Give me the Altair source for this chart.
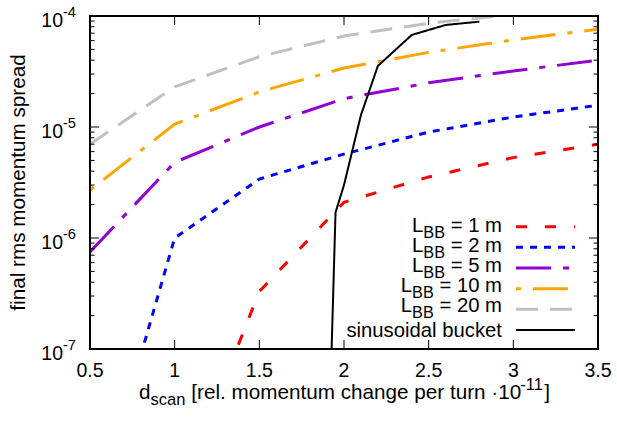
import altair as alt
import pandas as pd

# ---- data -------------------------------------------------------------
# scan rate d_scan (units of 1e-11 relative momentum change per turn)
d_scan = [0.5, 1.0, 1.5, 2.0, 2.5, 3.0, 3.5]
d_scan_L1 = [1.0, 1.5, 2.0, 2.5, 3.0, 3.5]

# final rms momentum spread for the different barrier-bucket lengths
spread_L1 = [3.8e-9, 3.3e-7, 2.1e-6, 3.55e-6, 5.3e-6, 7.0e-6]
spread_L2 = [2.3e-9, 1.0e-6, 3.4e-6, 5.7e-6, 9.0e-6, 1.23e-5, 1.57e-5]
spread_L5 = [7.5e-7, 4.8e-6, 1.0e-5, 1.8e-5, 2.5e-5, 3.2e-5, 4.0e-5]
spread_L10 = [2.7e-6, 1.06e-5, 2.07e-5, 3.4e-5, 4.7e-5, 6.1e-5, 7.6e-5]
spread_L20 = [7.0e-6, 2.3e-5, 4.3e-5, 6.6e-5, 8.6e-5, 1.03e-4, 1.2e-4]

# sinusoidal bucket reference
bucket_d = [1.925, 1.95, 2.0, 2.1, 2.2, 2.4, 2.6, 2.8]
bucket_spread = [8e-8, 1.7e-6, 3.0e-6, 1.28e-5, 3.55e-5, 6.75e-5, 8.3e-5, 8.9e-5]

lengths = ["1", "2", "5", "10", "20"]

# axis ticks
x_ticks = [0.5, 1.0, 1.5, 2.0, 2.5, 3.0, 3.5]
x_tick_labels = ["0.5", "1", "1.5", "2", "2.5", "3", "3.5"]
y_major = [1e-7, 1e-6, 1e-5, 1e-4]
y_exponents = ["-7", "-6", "-5", "-4"]
y_minor = [k * 10.0 ** e for e in (-7, -6, -5) for k in range(2, 10)]

# ---- layout / style ---------------------------------------------------
W, H = 508, 333
FONT = "Liberation Sans"
F_TICK = 19.5
F_TITLE = 20.7
F_LEG = 20.3
SUB = 0.8

COLORS = ["#ff0000", "#0000ff", "#9400d3", "#ffa500", "#c0c0c0", "#000000"]
DASHES = [[11, 18], [7, 7], [35, 12, 6, 12], [5, 12, 35, 12], [22, 12], [1, 0]]
WIDTHS = [3, 3, 3, 3, 3, 2]

# advance widths (per 1000 em) for the sans-serif face
ADV = {' ': 278, '[': 278, ']': 278, 'r': 333, 'e': 556, 'l': 222, '.': 278,
       'm': 833, 'o': 556, 'n': 556, 't': 278, 'u': 556, 'c': 500, 'h': 556,
       'a': 556, 'g': 556, 'p': 556, '·': 278, '1': 556, '0': 556, '-': 333,
       'd': 556, 's': 500, 'L': 556, 'B': 667, '=': 584, '2': 556, '5': 556}


def text_width(s, size):
    return sum(ADV.get(ch, 556) for ch in s) * size / 1000.0


xs = alt.Scale(domain=[0.5, 3.5], nice=False, zero=False)
ys = alt.Scale(type="log", domain=[1e-7, 1e-4], nice=False)
one_row = pd.DataFrame({"k": [0]})


def txt(s, x, y, size, align="left", angle=0):
    # SVG drops leading blanks, so turn them into a horizontal shift
    if align == "left":
        stripped = s.lstrip(" ")
        x += text_width(s[: len(s) - len(stripped)], size)
        s = stripped
    elif align == "right":
        s = s.lstrip(" ")
    return alt.Chart(one_row).mark_text(
        text=s, align=align, baseline="alphabetic", fontSize=size,
        font=FONT, color="black", angle=angle
    ).encode(x=alt.value(x), y=alt.value(y))


layers = []

# ---- curves -----------------------------------------------------------
series = [
    (d_scan_L1, spread_L1),
    (d_scan, spread_L2),
    (d_scan, spread_L5),
    (d_scan, spread_L10),
    (d_scan, spread_L20),
    (bucket_d, bucket_spread),
]
for i, (xv, yv) in enumerate(series):
    df = pd.DataFrame({"d": xv, "s": yv})
    layers.append(
        alt.Chart(df).mark_line(
            clip=True, color=COLORS[i], strokeWidth=WIDTHS[i],
            strokeDash=DASHES[i], strokeJoin="miter"
        ).encode(
            x=alt.X("d:Q", scale=xs, axis=None),
            y=alt.Y("s:Q", scale=ys, axis=None),
        )
    )

# ---- inward ticks on all four sides ----------------------------------
xt = pd.DataFrame({"v": x_ticks, "lab": x_tick_labels})
ym = pd.DataFrame({"v": y_major, "e": y_exponents})
yn = pd.DataFrame({"v": y_minor})
tick = dict(color="black", strokeWidth=1)
layers += [
    alt.Chart(xt).mark_rule(**tick).encode(
        x=alt.X("v:Q", scale=xs, axis=None), y=alt.value(H), y2=alt.value(H - 9)),
    alt.Chart(xt).mark_rule(**tick).encode(
        x=alt.X("v:Q", scale=xs, axis=None), y=alt.value(0), y2=alt.value(9)),
    alt.Chart(ym).mark_rule(**tick).encode(
        y=alt.Y("v:Q", scale=ys, axis=None), x=alt.value(0), x2=alt.value(9)),
    alt.Chart(ym).mark_rule(**tick).encode(
        y=alt.Y("v:Q", scale=ys, axis=None), x=alt.value(W - 9), x2=alt.value(W)),
    alt.Chart(yn).mark_rule(**tick).encode(
        y=alt.Y("v:Q", scale=ys, axis=None), x=alt.value(0), x2=alt.value(4.5)),
    alt.Chart(yn).mark_rule(**tick).encode(
        y=alt.Y("v:Q", scale=ys, axis=None), x=alt.value(W - 4.5), x2=alt.value(W)),
]

# ---- tick labels ------------------------------------------------------
layers.append(
    alt.Chart(xt).mark_text(align="center", baseline="alphabetic",
                            fontSize=F_TICK, font=FONT, color="black").encode(
        x=alt.X("v:Q", scale=xs, axis=None), y=alt.value(H + 28), text="lab:N"))
layers.append(
    alt.Chart(ym).mark_text(align="right", baseline="alphabetic", dy=10.5,
                            fontSize=F_TICK, font=FONT, color="black",
                            text="10").encode(
        y=alt.Y("v:Q", scale=ys, axis=None), x=alt.value(-27)))
layers.append(
    alt.Chart(ym).mark_text(align="left", baseline="alphabetic", dy=1,
                            fontSize=F_TICK * 0.75, font=FONT, color="black").encode(
        y=alt.Y("v:Q", scale=ys, axis=None), x=alt.value(-27), text="e:N"))

# ---- axis titles ------------------------------------------------------
layers.append(txt("final rms momentum spread", -65, H / 2, F_TITLE, "center", 270))

FS = F_TITLE * SUB
base = H + 50
x0 = 49
pieces = [
    ("d", F_TITLE, 0),
    ("scan", FS, 6),
    (" [rel. momentum change per turn ·10", F_TITLE, 0),
    ("-11", FS, -9),
    ("]", F_TITLE, 0),
]
for s, size, shift in pieces:
    layers.append(txt(s, x0, base + shift, size))
    x0 += text_width(s, size)

# ---- key --------------------------------------------------------------
LS = F_LEG * SUB
right = 412
sample_y0, sample_step = 210.7, 20.66
text_y0, text_step = 215.7, 20.0
for i in range(6):
    ry = sample_y0 + sample_step * i
    ty = text_y0 + text_step * i
    layers.append(
        alt.Chart(one_row).mark_rule(
            color=COLORS[i], strokeWidth=WIDTHS[i], strokeDash=DASHES[i]
        ).encode(x=alt.value(426), x2=alt.value(485), y=alt.value(ry)))
    if i < 5:
        tail = " = " + lengths[i] + " m"
        layers.append(txt(tail, right, ty, F_LEG, "right"))
        xb = right - text_width(tail, F_LEG)
        layers.append(txt("BB", xb, ty + 6.3, LS, "right"))
        xl = xb - text_width("BB", LS)
        layers.append(txt("L", xl, ty, F_LEG, "right"))
    else:
        layers.append(txt("sinusoidal bucket", right, ry + 6.7, F_LEG, "right"))

# ---- frame ------------------------------------------------------------
layers.append(
    alt.Chart(one_row).mark_rect(filled=False, stroke="black", strokeWidth=2).encode(
        x=alt.value(0), x2=alt.value(W), y=alt.value(0), y2=alt.value(H)))

chart = alt.layer(*layers).properties(
    width=W, height=H,
    padding={"left": 90, "top": 16, "right": 19, "bottom": 72},
    autosize=alt.AutoSizeParams(type="none"),
    background="white",
).configure_view(stroke=None)

chart.save("out.html", embed_options={"renderer": "svg", "actions": False})
